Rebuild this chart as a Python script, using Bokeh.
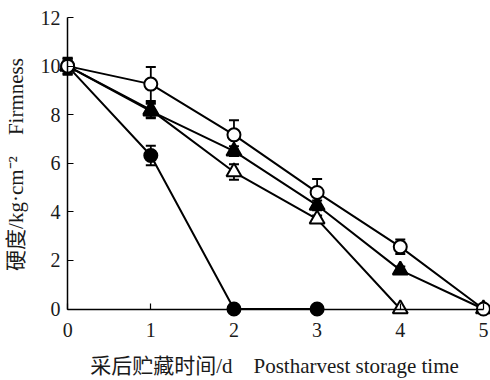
from bokeh.plotting import figure
from bokeh.models import Range1d, Whisker, ColumnDataSource, TeeHead, FixedTicker, LinearAxis
from bokeh.embed import file_html
from bokeh.resources import INLINE

# Data
days = [0, 1, 2, 3, 4, 5]
open_circle = [10.0, 9.26, 7.17, 4.8, 2.56, 0.0]
open_circle_err = [0.35, 0.7, 0.6, 0.55, 0.3, 0.0]
filled_tri = [10.0, 8.15, 6.5, 4.27, 1.6, 0.0]
filled_tri_err = [0.3, 0.3, 0.2, 0.2, 0.15, 0.0]
days_open_tri = [0, 1, 2, 3, 4]
open_tri = [10.0, 8.2, 5.64, 3.7, 0.0]
open_tri_err = [0.3, 0.3, 0.32, 0.15, 0.0]
days_filled_circle = [0, 1, 2, 3]
filled_circle = [10.0, 6.32, 0.0, 0.0]
filled_circle_err = [0.2, 0.4, 0.0, 0.0]
x_ticks = [0, 1, 2, 3, 4, 5]
y_ticks = [0, 2, 4, 6, 8, 10, 12]
x_label = "采后贮藏时间/d\u00a0\u00a0\u00a0\u00a0Postharvest storage time"
y_label = "硬度/kg·cm⁻²\u00a0\u00a0\u00a0\u00a0Firmness"

LABEL_FONT = "'Liberation Serif', 'Noto Sans CJK SC'"
TICK_FONT = "'Liberation Serif', serif"
TXT = "#1a1a1a"

p = figure(width=490, height=380, x_range=Range1d(-0.11, 5.085), y_range=Range1d(-0.35, 12.25),
           output_backend="svg", toolbar_location=None,
           min_border_left=58, min_border_right=0, min_border_top=11, min_border_bottom=62)
p.outline_line_color = None
p.grid.visible = False
p.background_fill_color = "white"

# Label axes (at the frame edges): tick labels and titles only
for ax in (p.xaxis[0], p.yaxis[0]):
    ax.axis_line_color = None
    ax.major_tick_line_color = None
    ax.minor_tick_line_color = None
    ax.major_label_text_font = TICK_FONT
    ax.major_label_text_font_size = "20px"
    ax.major_label_text_color = TXT
    ax.axis_label_text_font = LABEL_FONT
    ax.axis_label_text_font_size = "21px"
    ax.axis_label_text_font_style = "normal"
    ax.axis_label_text_color = TXT
p.xaxis[0].ticker = FixedTicker(ticks=x_ticks)
p.yaxis[0].ticker = FixedTicker(ticks=y_ticks)
p.xaxis[0].major_label_standoff = -1
p.yaxis[0].major_label_standoff = -8
p.xaxis[0].axis_label = x_label
p.yaxis[0].axis_label = y_label
p.xaxis[0].axis_label_standoff = 14
p.yaxis[0].axis_label_standoff = 10

# Spine axes drawn at the data zero lines
def spine(bounds, ticks):
    a = LinearAxis(fixed_location=0, bounds=bounds, ticker=FixedTicker(ticks=ticks),
                   axis_line_color="black", axis_line_width=1.5,
                   major_tick_in=6, major_tick_out=0, major_tick_line_width=1.2,
                   major_tick_line_color="black", minor_tick_line_color=None,
                   major_label_text_font_size="1px", major_label_standoff=0,
                   major_label_text_alpha=0)
    return a

p.add_layout(spine((0, 5), x_ticks), "below")
p.add_layout(spine((0, 12), y_ticks), "left")

LW = 2

def add_series(x, y, err, marker, fill, size):
    src = ColumnDataSource(dict(x=x, y=y, up=[a + b for a, b in zip(y, err)],
                                lo=[a - b for a, b in zip(y, err)]))
    p.line("x", "y", source=src, line_color="black", line_width=LW)
    w = Whisker(base="x", upper="up", lower="lo", source=src, dimension="height",
                line_color="black", line_width=1.8,
                upper_head=TeeHead(size=10, line_width=2, line_color="black"),
                lower_head=TeeHead(size=10, line_width=2, line_color="black"))
    p.add_layout(w)
    return src, marker, fill, size

series = [
    add_series(days_filled_circle, filled_circle, filled_circle_err, "circle", "black", 13),
    add_series(days_open_tri, open_tri, open_tri_err, "triangle", "white", 15),
    add_series(days, filled_tri, filled_tri_err, "triangle", "black", 15),
    add_series(days, open_circle, open_circle_err, "circle", "white", 13),
]
for src, marker, fill, size in series:
    p.scatter("x", "y", source=src, marker=marker, size=size, fill_color=fill,
              line_color="black", line_width=2)

open("out.html", "w").write(file_html(p, INLINE))
